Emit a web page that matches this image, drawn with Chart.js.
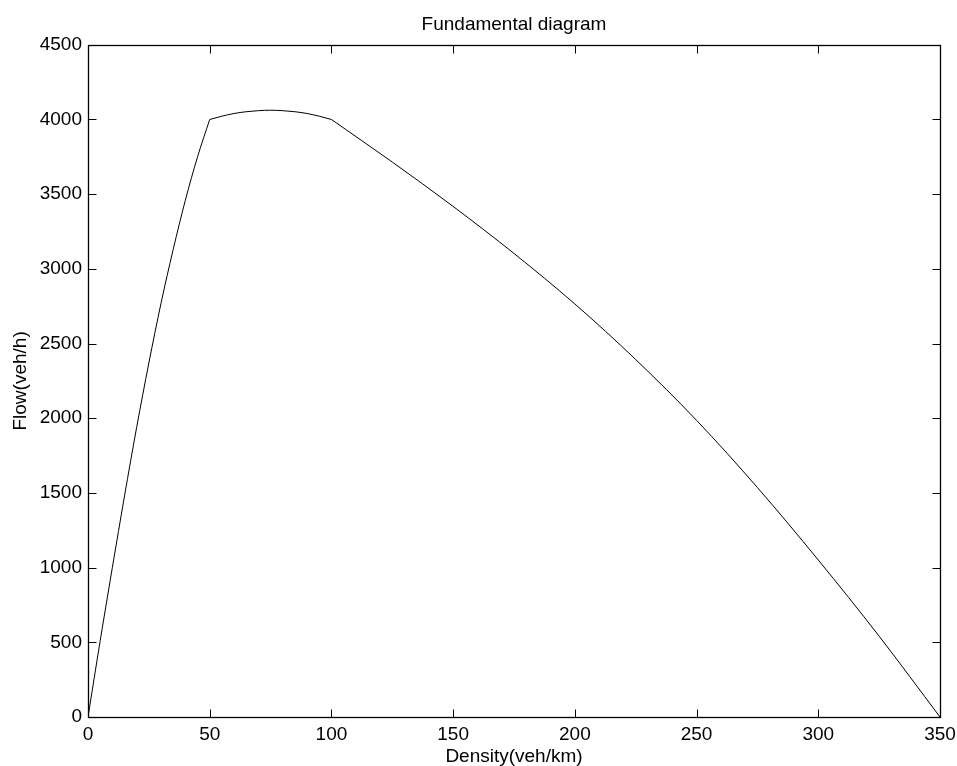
<!DOCTYPE html>
<html>
<head>
<meta charset="utf-8">
<title>Fundamental diagram</title>
<script src="https://cdn.jsdelivr.net/npm/chart.js@4.4.1/dist/chart.umd.min.js"></script>
<style>
  html, body { margin: 0; padding: 0; background: #fff; }
  #wrap { width: 957px; height: 766px; }
</style>
</head>
<body>
<div id="wrap"><canvas id="fdChart" width="957" height="766"></canvas></div>
<script>
// free flow branch (density veh/km, flow veh/h)
const freeDensity = [0, 5, 10, 15, 20, 25, 30, 35, 40, 45, 50];
const freeFlow = [0, 510, 1000, 1480, 1940, 2370, 2770, 3130, 3460, 3750, 4000];

// capacity branch
const capDensity = [50, 55, 60, 65, 70, 75, 80, 85, 90, 95, 100];
const capFlow = [4000, 4022, 4040, 4052, 4059, 4062, 4059, 4052, 4040, 4022, 4000];

// congested branch
const congDensity = [100, 125, 150, 175, 200, 225, 250, 275, 300, 325, 350];
const congFlow = [4000, 3715, 3418, 3103, 2765, 2393, 1986, 1536, 1051, 541, 0];

const xTicks = [0, 50, 100, 150, 200, 250, 300, 350];
const yTicks = [0, 500, 1000, 1500, 2000, 2500, 3000, 3500, 4000, 4500];

function toPoints(xs, ys) {
    return xs.map((x, i) => ({ x: x, y: ys[i] }));
}

Chart.defaults.font.family = "'Liberation Sans', Arial, Helvetica, sans-serif";
Chart.defaults.color = '#000';

// MATLAB style box with inward ticks on all four sides
const boxTicks = {
    id: 'boxTicks',
    afterDraw(chart) {
        const ctx = chart.ctx;
        const left = Math.round(chart.chartArea.left) + 0.5;
        const right = Math.round(chart.chartArea.right) + 0.5;
        const top = Math.round(chart.chartArea.top) + 0.5;
        const bottom = Math.round(chart.chartArea.bottom) + 0.5;
        const tickLen = 8;
        ctx.save();
        ctx.strokeStyle = '#000';
        ctx.lineWidth = 1;
        ctx.beginPath();
        chart.scales.x.ticks.forEach((t, i) => {
            const px = Math.round(chart.scales.x.getPixelForTick(i)) + 0.5;
            ctx.moveTo(px, bottom);
            ctx.lineTo(px, bottom - tickLen);
            ctx.moveTo(px, top);
            ctx.lineTo(px, top + tickLen);
        });
        chart.scales.y.ticks.forEach((t, i) => {
            const py = Math.round(chart.scales.y.getPixelForTick(i)) + 0.5;
            ctx.moveTo(left, py);
            ctx.lineTo(left + tickLen, py);
            ctx.moveTo(right, py);
            ctx.lineTo(right - tickLen, py);
        });
        ctx.stroke();
        ctx.lineWidth = 1.3;
        ctx.strokeRect(left, top, right - left, bottom - top);
        ctx.restore();
    }
};

const lineStyle = {
    borderColor: '#000',
    borderWidth: 1,
    pointRadius: 0,
    showLine: true,
    cubicInterpolationMode: 'monotone',
    fill: false
};

const ctx = document.getElementById('fdChart').getContext('2d');
new Chart(ctx, {
    type: 'scatter',
    data: {
        datasets: [
            Object.assign({ label: 'free', data: toPoints(freeDensity, freeFlow) }, lineStyle),
            Object.assign({ label: 'capacity', data: toPoints(capDensity, capFlow) }, lineStyle),
            Object.assign({ label: 'congested', data: toPoints(congDensity, congFlow) }, lineStyle)
        ]
    },
    options: {
        responsive: false,
        animation: false,
        layout: { padding: 0 },
        plugins: {
            legend: { display: false },
            tooltip: { enabled: false },
            title: {
                display: true,
                fullSize: false,
                text: 'Fundamental diagram',
                color: '#000',
                font: { size: 19, weight: 'normal', lineHeight: 1.2 },
                padding: { top: 13, bottom: 9 }
            }
        },
        scales: {
            x: {
                type: 'linear',
                min: 0,
                max: 350,
                grid: { display: false, drawTicks: false },
                border: { display: false },
                afterBuildTicks: scale => { scale.ticks = xTicks.map(v => ({ value: v })); },
                ticks: { padding: 6, font: { size: 19 }, maxRotation: 0, autoSkip: false, callback: v => String(v) },
                title: {
                    display: true,
                    text: 'Density(veh/km)',
                    font: { size: 19, lineHeight: 1 },
                    padding: { top: 0, bottom: 0 }
                },
                afterFit: scale => {
                    scale.height = 49;
                    scale.paddingLeft = 0;
                    scale.paddingRight = 17;
                }
            },
            y: {
                type: 'linear',
                min: 0,
                max: 4500,
                grid: { display: false, drawTicks: false },
                border: { display: false },
                afterBuildTicks: scale => { scale.ticks = yTicks.map(v => ({ value: v })); },
                ticks: { padding: 6, font: { size: 19 }, autoSkip: false, callback: v => String(v) },
                title: {
                    display: true,
                    text: 'Flow(veh/h)',
                    font: { size: 19, lineHeight: 1.2 },
                    padding: { top: 9, bottom: 0 }
                },
                afterFit: scale => {
                    scale.width = 88;
                    scale.paddingTop = 0;
                    scale.paddingBottom = 0;
                }
            }
        }
    },
    plugins: [boxTicks]
});
</script>
</body>
</html>
